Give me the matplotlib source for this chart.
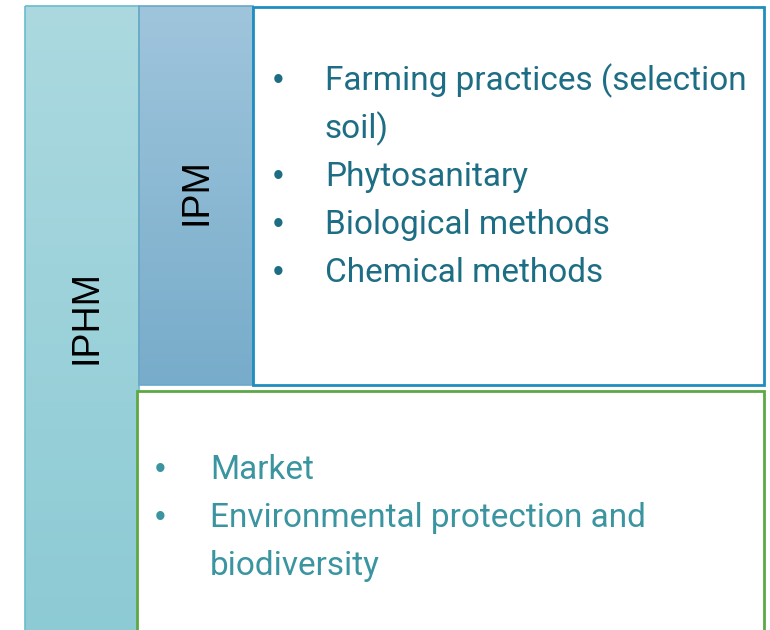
import matplotlib
matplotlib.use("Agg")
import matplotlib.pyplot as plt
import numpy as np
from matplotlib.patches import Rectangle

outer_label = "IPHM"
inner_label = "IPM"
ipm_items = [["Farming practices (selection", "soil)"], ["Phytosanitary"], ["Biological methods"], ["Chemical methods"]]
iphm_items = [["Market"], ["Environmental protection and", "biodiversity"]]

W, H = 770, 630
fig = plt.figure(figsize=(W / 100, H / 100), dpi=100)
ax = fig.add_axes([0, 0, 1, 1])

def grad_rect(x0, x1, y0, y1, c_top, c_bot, edge):
    c_top = np.array(matplotlib.colors.to_rgb(c_top))
    c_bot = np.array(matplotlib.colors.to_rgb(c_bot))
    t = np.linspace(0, 1, 256)[:, None]
    img = (c_top[None, :] * (1 - t) + c_bot[None, :] * t)[:, None, :]
    ax.imshow(img, extent=[x0, x1, y1, y0], aspect="auto", zorder=1, interpolation="bilinear")
    ax.add_patch(Rectangle((x0, y0), x1 - x0, y1 - y0, fill=False, ec=edge, lw=1.2, zorder=2))

# IPHM column
grad_rect(25, 139, 6, 640, "#acd9e0", "#8ccad4", "#6bbccb")
# IPM column
grad_rect(139, 253, 6, 385, "#9fc5dc", "#77acca", "#6aa8c8")
ax.set_xlim(0, W)
ax.set_ylim(H, 0)
ax.axis("off")

# upper white box
ax.add_patch(Rectangle((253, 7), 511, 378, fc="white", ec="#1f8dc0", lw=2, zorder=2))
# lower green box
ax.add_patch(Rectangle((137, 391), 627, 260, fc="white", ec="#5da844", lw=2, zorder=2))

label_font = "Liberation Sans"
ax.text(86, 317, outer_label, rotation=90, ha="center", va="center", fontsize=27,
        family=label_font, color="black", zorder=5)
ax.text(197, 192, inner_label, rotation=90, ha="center", va="center", fontsize=27,
        family=label_font, color="black", zorder=5)

font = "Roboto"
up_color = "#1d6e85"
low_color = "#3a95a0"

def bullets(items, y, xb, xt, color):
    for item in items:
        ax.text(xb, y - 1, "•", ha="center", va="baseline", fontsize=22, family="Liberation Sans",
                color=color, zorder=5)
        for line in item:
            ax.text(xt, y, line, ha="left", va="baseline", fontsize=24, family=font,
                    color=color, zorder=5)
            y += 48

bullets(ipm_items, 90, 278, 325, up_color)
bullets(iphm_items, 479, 160, 210, low_color)

fig.savefig("out.png", dpi=100)
